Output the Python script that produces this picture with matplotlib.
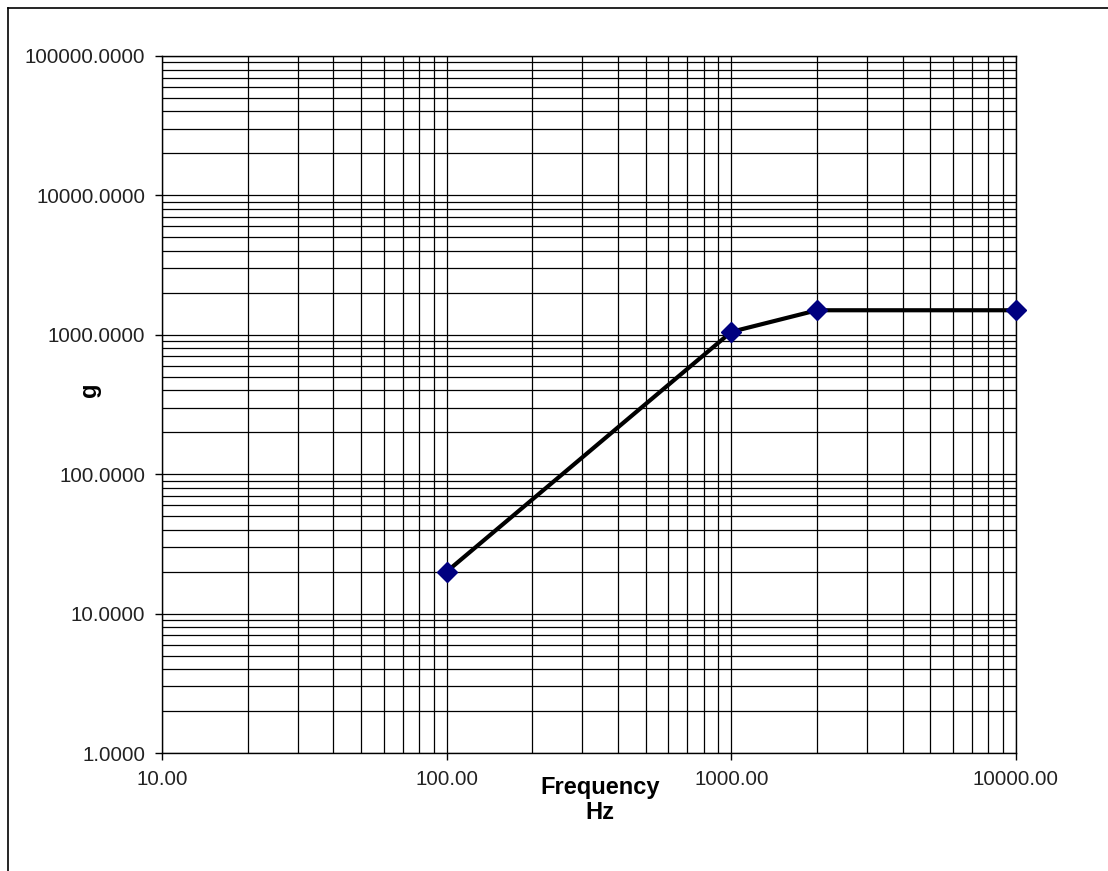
import matplotlib
matplotlib.use("Agg")
import matplotlib.pyplot as plt
from matplotlib.ticker import LogLocator, FixedLocator, FuncFormatter, NullFormatter
from matplotlib.lines import Line2D

freq_hz = [100, 1000, 2000, 10000]
g_values = [20, 1050, 1500, 1500]
x_ticks = [10, 100, 1000, 10000]
y_ticks = [1, 10, 100, 1000, 10000, 100000]
x_label = "Frequency\nHz"
y_label = "g"

plt.rcParams['font.family'] = ['Liberation Sans', 'DejaVu Sans']

fig = plt.figure(figsize=(11.08, 8.71), dpi=100)
ax = fig.add_axes([162/1108, 1-753/871, (1016-162)/1108, (753-56)/871])

ax.set_xscale('log')
ax.set_yscale('log')
ax.set_xlim(10, 10000)
ax.set_ylim(1, 100000)

ax.xaxis.set_major_locator(FixedLocator(x_ticks))
ax.yaxis.set_major_locator(FixedLocator(y_ticks))
ax.xaxis.set_minor_locator(LogLocator(base=10, subs=range(2, 10), numticks=20))
ax.yaxis.set_minor_locator(LogLocator(base=10, subs=range(2, 10), numticks=20))
ax.xaxis.set_major_formatter(FuncFormatter(lambda v, p: f"{v:.2f}"))
ax.yaxis.set_major_formatter(FuncFormatter(lambda v, p: f"{v:.4f}"))
ax.xaxis.set_minor_formatter(NullFormatter())
ax.yaxis.set_minor_formatter(NullFormatter())

ax.grid(True, which='both', color='black', linewidth=0.9)
ax.set_axisbelow(True)
ax.tick_params(which='major', direction='out', length=5, width=1, color='black',
               labelsize=14.8, pad=7, labelcolor='#222222')
ax.tick_params(which='minor', length=0)
for s in ax.spines.values():
    s.set_color('black')
    s.set_linewidth(1)

ax.plot(freq_hz, g_values, color='black', linewidth=3.0, marker='D',
        markersize=10, markerfacecolor='#000080', markeredgecolor='#000080',
        zorder=5, clip_on=False)

fig.text(600/1108, 1-800/871, x_label, ha='center', va='center',
         fontsize=17, fontweight='bold', linespacing=1.1)
fig.text(90/1108, 1-390/871, y_label, ha='center', va='center',
         fontsize=17, fontweight='bold', rotation=90)

# outer chart border (top and left visible)
fig.add_artist(Line2D([8/1108, 8/1108], [0, 1-8/871], transform=fig.transFigure,
                      color='black', linewidth=1.2))
fig.add_artist(Line2D([8/1108, 1], [1-8/871, 1-8/871], transform=fig.transFigure,
                      color='black', linewidth=1.2))

fig.savefig("out.png", dpi=100)
